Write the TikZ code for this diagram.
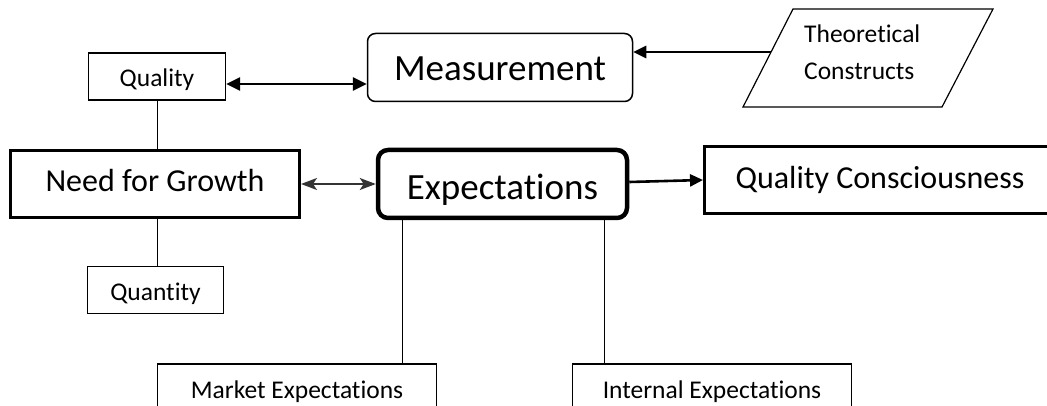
\documentclass[tikz,border=0pt]{standalone}
\usepackage{fontspec}
\setmainfont{Carlito}[Ligatures=NoCommon]
\usetikzlibrary{arrows.meta}
\begin{document}
\begin{tikzpicture}[x=1pt,y=-1pt,
  box/.style={draw,inner sep=0pt,text depth=0pt},
  smalltxt/.style={font=\fontsize{25.5}{37}\selectfont},
  midtxt/.style={font=\fontsize{32}{38}\selectfont},
  bigtxt/.style={font=\fontsize{37}{44}\selectfont},
  thinbox/.style={box,line width=1.2pt},
  link/.style={line width=1pt},
  bigarrow/.style={line width=2.6pt,{Triangle[length=14pt,width=13pt]}-{Triangle[length=14pt,width=13pt]}},
  onearrow/.style={line width=2.6pt,-{Triangle[length=13pt,width=12pt]}},
  grayarrow/.style={line width=1.7pt,draw=black!80,{Stealth[length=16pt,width=12pt,inset=4pt]}-{Stealth[length=16pt,width=12pt,inset=4pt]}}
]
\useasboundingbox (0,0) rectangle (1047,406);
\clip (0,0) rectangle (1047,406);

% nodes
\node[thinbox,smalltxt,minimum width=137pt,minimum height=47pt,text height=21pt] (quality) at (157,76.5) {Quality};
\node[box,bigtxt,line width=1.5pt,rounded corners=8pt,minimum width=265pt,minimum height=68pt,text height=27pt] (meas) at (500,67.5) {Measurement};
\node[box,midtxt,line width=3pt,minimum width=289pt,minimum height=67pt,text height=16pt] (nfg) at (155,184) {Need for Growth};
\node[box,bigtxt,line width=4.5pt,rounded corners=10pt,minimum width=249pt,minimum height=68pt,text height=32pt] (exp) at (502.5,184) {Expectations};
\node[box,midtxt,line width=3pt,minimum width=351pt,minimum height=67pt,text height=16.6pt] (qc) at (880,180) {Quality Consciousness};
\node[thinbox,smalltxt,minimum width=136pt,minimum height=47pt,text height=20pt] (quantity) at (155.5,290) {Quantity};
\node[thinbox,smalltxt,minimum width=279pt,minimum height=68pt,text height=0pt] (mkt) at (297,398) {Market Expectations};
\node[thinbox,smalltxt,minimum width=279pt,minimum height=68pt,text height=0pt] (int) at (712,398) {Internal Expectations};

% parallelogram
\draw[line width=1.2pt] (743,107) -- (793,9) -- (993,9) -- (942,107) -- cycle;
\node[smalltxt,align=left,anchor=base west,inner sep=0pt] (tc) at (804,80) {Theoretical\\Constructs};
\coordinate (tcl) at (771,52);

% connectors
\draw[bigarrow] ([yshift=-7.5pt]quality.east) -- ([yshift=-7.5pt]quality.east -| meas.west);
\draw[onearrow] (tcl) -- (tcl -| meas.east);
\draw[grayarrow] (nfg.east) -- (exp.west);
\draw[onearrow] ([yshift=2pt]exp.east) -- (qc.west);
\draw[link] (quality.south) -- (quality.south |- nfg.north);
\draw[link] (quality.south |- nfg.south) -- (quality.south |- quantity.north);
\draw[link] ([xshift=-100pt]exp.south) -- ([xshift=-100pt]exp.south |- mkt.north);
\draw[link] ([xshift=101.5pt]exp.south) -- ([xshift=101.5pt]exp.south |- int.north);
\end{tikzpicture}
\end{document}
